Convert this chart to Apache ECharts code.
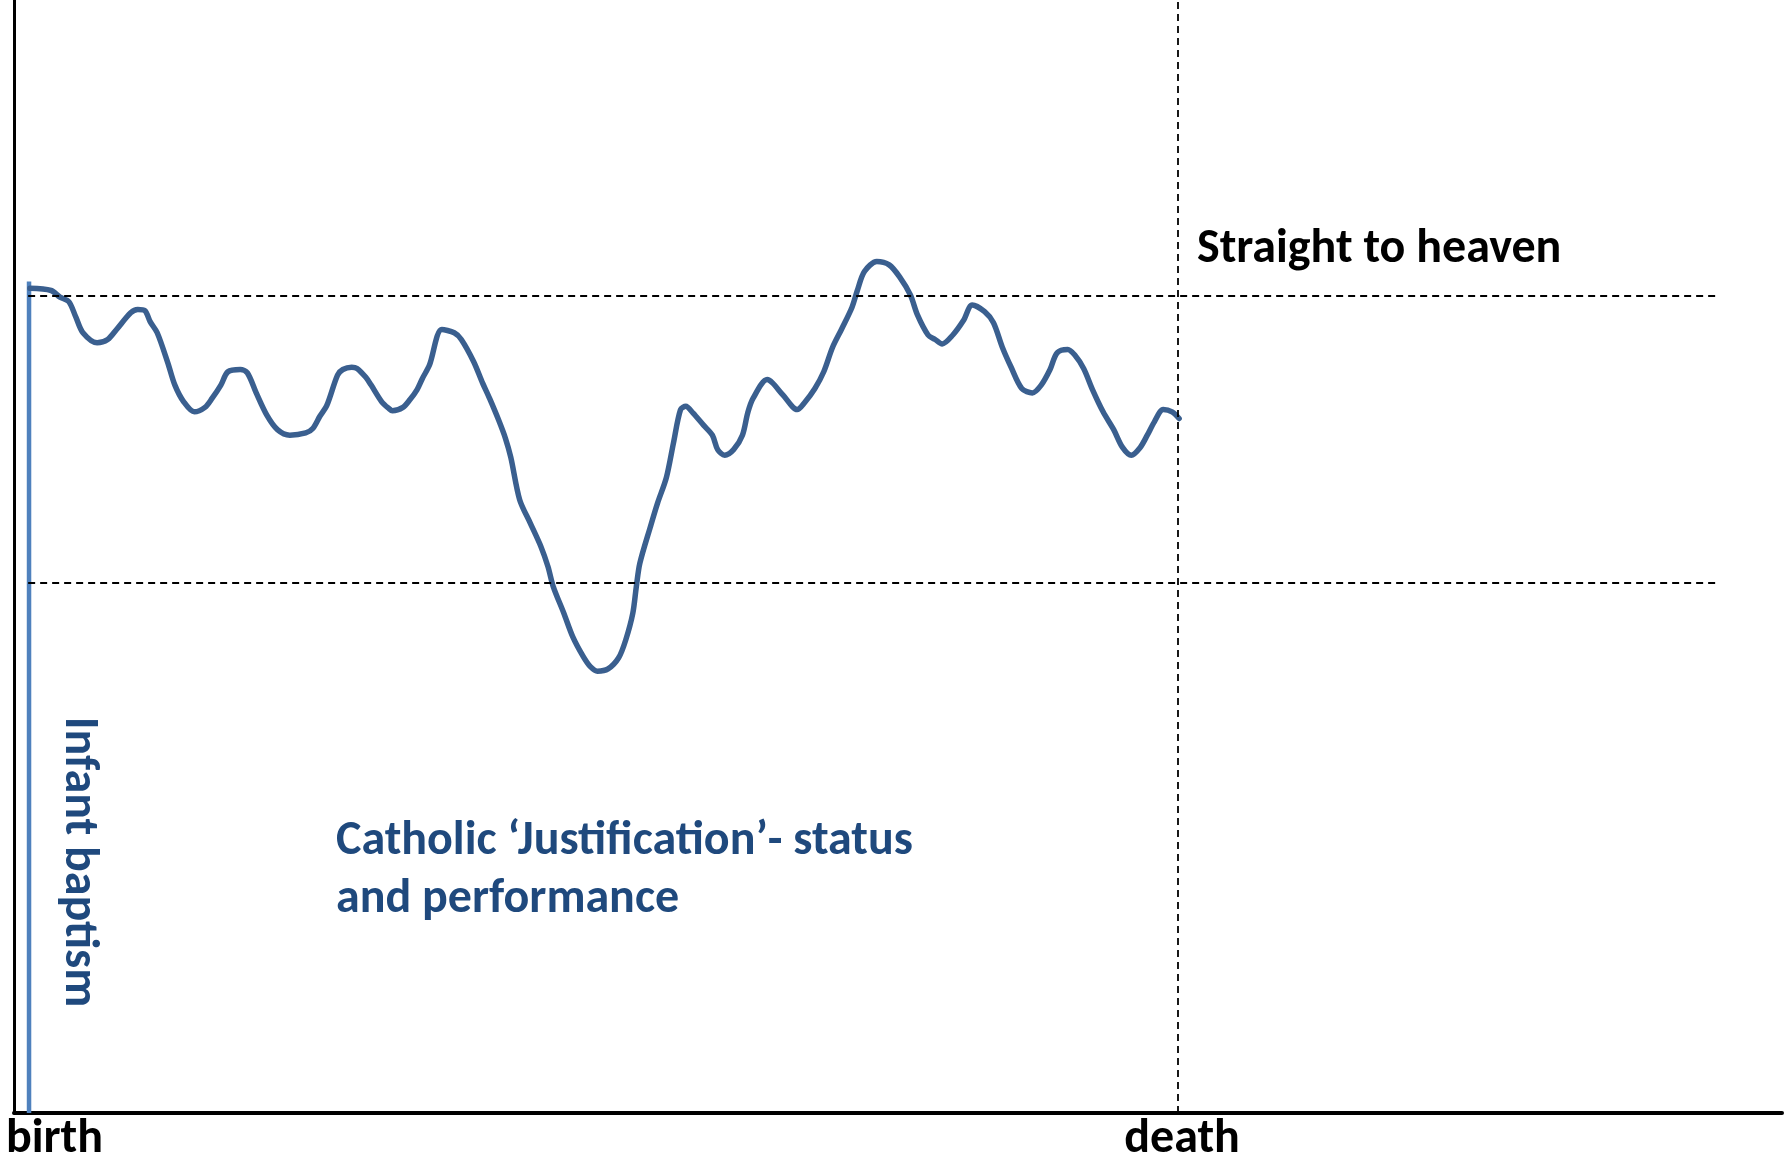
<!DOCTYPE html>
<html>
<head>
<meta charset="utf-8">
<script src="https://cdn.jsdelivr.net/npm/echarts@6/dist/echarts.min.js"></script>
<style>
html,body{margin:0;padding:0;background:#fff;}
#chart{width:1787px;height:1166px;}
</style>
</head>
<body>
<div id="chart"></div>
<script>
// life progress (0 = axis origin, 1000 = right end of axis)
const lifeX = [9,21,26,31,35,39,47,53,58,66,70,74,77,81,87,91,96,102,108,112,117,121,128,132,137,143,149,156,165,169,173,177,183,186,191,194,199,202,208,212,214,220,224,228,231,235,242,249,253,260,265,269,274,278,281,286,292,298,302,305,311,316,322,326,330,336,342,346,350,352,354,360,364,369,373,377,380,384,390,395,398,402,407,412,415,418,426,429,435,443,447,453,458,463,468,474,477,481,488,495,501,507,511,517,521,525,531,537,542,549,554,559,564,570,576,581,586,590,596,600,605,610,616,622,627,632,637,641,645,650,655,659];
// justification status/performance (0 = bottom axis, 1000 = top)
const statusY = [741,739,733,729,715,701,692,695,704,719,722,721,711,701,674,654,639,630,634,642,654,666,668,665,647,627,614,609,611,615,626,636,663,668,670,669,661,654,639,633,631,634,641,650,660,672,704,701,695,675,656,642,623,606,589,551,530,509,491,473,449,428,410,401,397,399,409,425,449,473,494,527,548,571,602,632,635,629,618,609,596,591,596,609,629,642,659,656,645,632,638,651,666,688,704,724,739,756,765,762,751,735,717,699,695,691,699,712,726,720,710,688,670,651,647,654,668,683,686,681,669,650,630,614,598,591,598,609,621,632,630,624];
const thresholdLevels = [734, 476];      // "straight to heaven" level, lower level
const thresholdRange = [8, 964];         // horizontal extent of the dashed levels
const deathX = 658;
const baptism = {x: 8.5, top: 747};
const labels = {
  heaven: 'Straight to heaven',
  birth: 'birth',
  death: 'death',
  catholic1: 'Catholic \u2018Justification\u2019- status',
  catholic2: 'and performance',
  baptism: 'Infant baptism'
};

const curve = lifeX.map((x, i) => [x, statusY[i]]);
const FONT = 'bold 48px Carlito, Lato, "Liberation Sans", sans-serif';
const chart = echarts.init(document.getElementById('chart'));
chart.setOption({
  animation: false,
  backgroundColor: '#ffffff',
  grid: {left: 14, right: 5, top: 0, bottom: 53, containLabel: false},
  xAxis: {
    type: 'value', min: 0, max: 1000,
    axisLine: {show: true, onZero: false, lineStyle: {color: '#000', width: 4}},
    axisTick: {show: false}, axisLabel: {show: false}, splitLine: {show: false}
  },
  yAxis: {
    type: 'value', min: 0, max: 1000,
    axisLine: {show: true, onZero: false, lineStyle: {color: '#000', width: 3}},
    axisTick: {show: false}, axisLabel: {show: false}, splitLine: {show: false}
  },
  series: [
    {
      type: 'line',
      data: [[baptism.x, baptism.top], [baptism.x, 0]],
      symbol: 'none',
      lineStyle: {color: '#4F81BD', width: 4.5},
      z: 2
    },
    {
      type: 'line',
      data: curve,
      symbol: 'none',
      smooth: 0.3,
      lineStyle: {color: '#3A5F8F', width: 5.5, cap: 'round', join: 'round'},
      z: 3
    },
    {
      type: 'line',
      data: [],
      z: 4,
      markLine: {
        silent: true,
        symbol: 'none',
        label: {show: false},
        lineStyle: {color: '#000', width: 1.8, type: [7, 5]},
        data: [
          [{coord: [thresholdRange[0], thresholdLevels[0]]}, {coord: [thresholdRange[1], thresholdLevels[0]]}],
          [{coord: [thresholdRange[0], thresholdLevels[1]]}, {coord: [thresholdRange[1], thresholdLevels[1]]}],
          [{coord: [deathX, 0]}, {coord: [deathX, 1000]}]
        ]
      }
    }
  ],
  graphic: [
    {type: 'text', x: 1197, y: 250, style: {text: labels.heaven, font: FONT, fill: '#000', textAlign: 'left', textVerticalAlign: 'middle'}},
    {type: 'text', x: 6, y: 1140, style: {text: labels.birth, font: FONT, fill: '#000', textAlign: 'left', textVerticalAlign: 'middle'}},
    {type: 'text', x: 1182, y: 1140, style: {text: labels.death, font: FONT, fill: '#000', textAlign: 'center', textVerticalAlign: 'middle'}},
    {type: 'text', x: 336, y: 842, style: {text: labels.catholic1, font: FONT, fill: '#1F497D', textAlign: 'left', textVerticalAlign: 'middle'}},
    {type: 'text', x: 336, y: 900, style: {text: labels.catholic2, font: FONT, fill: '#1F497D', textAlign: 'left', textVerticalAlign: 'middle'}},
    {type: 'text', x: 78, y: 862, rotation: -Math.PI / 2, style: {text: labels.baptism, font: FONT, fill: '#1F497D', textAlign: 'center', textVerticalAlign: 'middle'}}
  ]
});
</script>
</body>
</html>
